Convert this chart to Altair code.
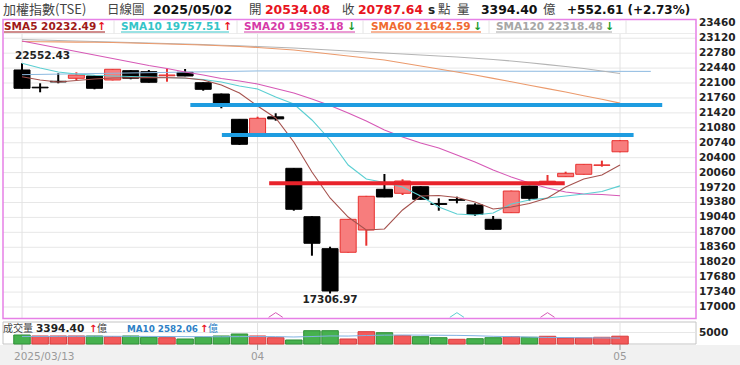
import altair as alt
import pandas as pd

# ---------------- data ----------------
dates = ["2025/03/13", "2025/03/14", "2025/03/17", "2025/03/18", "2025/03/19", "2025/03/20",
         "2025/03/21", "2025/03/24", "2025/03/25", "2025/03/26", "2025/03/27", "2025/03/28",
         "2025/03/31", "2025/04/01", "2025/04/02", "2025/04/07", "2025/04/08", "2025/04/09",
         "2025/04/10", "2025/04/11", "2025/04/14", "2025/04/15", "2025/04/16", "2025/04/17",
         "2025/04/18", "2025/04/21", "2025/04/22", "2025/04/23", "2025/04/24", "2025/04/25",
         "2025/04/28", "2025/04/29", "2025/04/30", "2025/05/02"]
opens = [22397, 22005, 22140, 22208, 22260, 22169, 22381, 22358, 22265, 22344, 22107, 21850,
         21274, 20939, 21330, 20158, 19056, 18328, 18246, 18753, 19680, 19589, 19739, 19355,
         19445, 19323, 18997, 19147, 19755, 19845, 19967, 20022, 20225, 20534.08]
highs = [22552.43, 22094, 22322, 22344, 22275, 22420, 22392, 22397, 22435, 22419, 22115, 21860,
         21280, 21333, 21411, 20165, 19065, 18373, 19000, 19530, 20029, 19908, 19750, 19475,
         19512, 19361, 19072, 19650, 19760, 20006, 20081, 20255, 20332, 20800]
lows = [21975, 21889, 22094, 22169, 21957, 22160, 22185, 22110, 22130, 22255, 21925, 21525,
        20690, 20935, 21242, 19193, 18168, 17306.97, 18240, 18396, 19500, 19550, 19440, 19193,
        19361, 19072, 18760, 19140, 19421, 19830, 19960, 20015, 20195, 20525]
closes = [21980, 21990, 22125, 22283, 21980, 22413, 22208, 22117, 22283, 22260, 21957, 21638,
          20705, 21297, 21283, 19225, 18451, 17364, 18997, 19521, 19505, 19869, 19452, 19335,
          19430, 19111, 18769, 19641, 19475, 19865, 20044, 20249, 20235.03, 20787.64]
volumes = [3915, 3480, 3480, 3480, 3480, 3175, 3480, 2915, 2740, 2175, 2915, 3480, 4350, 3480,
           2740, 1740, 5785, 5785, 2175, 5350, 4915, 3610, 3175, 2740, 2045, 2305, 2740, 3175,
           2915, 3350, 2610, 2610, 2915, 3394.40]
vol_dir = ["down", "up", "up", "up", "down", "up", "down", "down", "up", "down", "down", "down",
           "down", "up", "up", "down", "down", "down", "up", "up", "down", "up", "down", "down",
           "up", "down", "down", "up", "down", "up", "up", "up", "up", "up"]
vol_ma10 = [3300, 3300, 3320, 3350, 3380, 3350, 3330, 3300, 3250, 3200, 3180, 3150, 3200, 3250,
            3200, 3050, 3250, 3500, 3450, 3700, 3850, 3900, 3850, 3800, 3750, 3600, 3350, 3200,
            3000, 2850, 2800, 2700, 2650, 2582.06]
sma5 = [22244, 22169, 22123, 22158, 22192, 22214, 22221, 22226, 22219, 22214, 22169, 22055,
        21873, 21577, 21304, 20757, 20074, 19482, 19049, 18753, 18776, 19209, 19528, 19539,
        19493, 19391, 19232, 19277, 19357, 19482, 19733, 19915, 20006, 20232.49]
sma10 = [22549, 22442, 22351, 22306, 22276, 22260, 22249, 22237, 22226, 22208, 22180, 22123,
         22032, 21964, 21782, 21622, 21258, 20803, 20233, 19915, 19835, 19733, 19528, 19277,
         19118, 19095, 19140, 19345, 19437, 19482, 19528, 19573, 19630, 19757.51]
sma20 = [23057, 22977, 22898, 22818, 22738, 22659, 22579, 22499, 22431, 22351, 22283, 22203,
         22146, 22078, 21975, 21873, 21736, 21588, 21418, 21235, 21030, 20871, 20734, 20621,
         20461, 20302, 20120, 19960, 19824, 19710, 19619, 19573, 19562, 19533.18]
sma60 = [23046, 23041, 23036, 23032, 23027, 23023, 23011, 23000, 22989, 22977, 22966, 22950,
         22932, 22909, 22882, 22852, 22807, 22761, 22715, 22670, 22624, 22556, 22488, 22420,
         22351, 22283, 22205, 22128, 22051, 21973, 21896, 21811, 21729, 21642.59]
sma120 = [23091, 23080, 23068, 23057, 23046, 23034, 23023, 23011, 23000, 22989, 22975, 22961,
          22948, 22932, 22916, 22898, 22875, 22852, 22829, 22807, 22784, 22761, 22738, 22715,
          22693, 22665, 22636, 22602, 22561, 22520, 22476, 22431, 22374, 22318.48]
# thin light-blue long line
guide_idx = [0, 13, 34.7]
guide_val = [22290, 22375, 22365]
# user-drawn horizontal levels (start index, end index, price)
blue_start = [9.29, 11.03]
blue_end = [35.33, 33.75]
blue_price = [21600, 20917]
red_start = [13.64]
red_end = [29.95]
red_price = [19817]
# cross signals
signal_idx = [14, 24, 29]
signal_kind = ["sma20", "sma10", "sma20"]
price_ticks = [23460, 23120, 22780, 22440, 22100, 21760, 21420, 21080, 20740, 20400, 20060,
               19720, 19380, 19040, 18700, 18360, 18020, 17680, 17340, 17000]
date_tick_idx = [0, 13, 33]
date_tick_lab = ["2025/03/13", "04", "05"]

# ---------------- tables ----------------
n = len(dates)
df = pd.DataFrame({"i": list(range(n)), "date": dates, "open": opens, "high": highs,
                   "low": lows, "close": closes, "vol": volumes, "vdir": vol_dir,
                   "vma": vol_ma10})
df["dir"] = ["up" if c >= o else "down" for o, c in zip(opens, closes)]
ma_tables = {k: pd.DataFrame({"i": list(range(n)), "v": v}) for k, v in
             [("sma5", sma5), ("sma10", sma10), ("sma20", sma20), ("sma60", sma60), ("sma120", sma120)]}
guide_df = pd.DataFrame({"i": guide_idx, "v": guide_val})
blue_df = pd.DataFrame({"a": blue_start, "b": blue_end, "p": blue_price})
red_df = pd.DataFrame({"a": red_start, "b": red_end, "p": red_price})
sig_df = pd.DataFrame({"i": signal_idx, "kind": signal_kind})
tick_df = pd.DataFrame({"v": price_ticks})
dt_df = pd.DataFrame({"i": date_tick_idx, "lab": date_tick_lab})

imax = highs.index(max(highs))
imin = lows.index(min(lows))
hi_df = pd.DataFrame({"i": [imax], "v": [max(highs)], "t": [f"{max(highs):.2f}"]})
lo_df = pd.DataFrame({"i": [imin], "v": [min(lows)], "t": [f"{min(lows):.2f}"]})

# ---------------- scales ----------------
xs = alt.Scale(domain=[0, 33], range=[17, 625], nice=False, zero=False)
ys = alt.Scale(domain=[17000, 23460], range=[307.0, 23.3], nice=False, zero=False)
vs = alt.Scale(domain=[0, 5000], range=[344, 332.5], nice=False)


def X(f):
    return alt.X(f, type="quantitative", scale=xs, axis=None)


def Y(f):
    return alt.Y(f, type="quantitative", scale=ys, axis=None)


def V(f):
    return alt.Y(f, type="quantitative", scale=vs, axis=None)


ONE = alt.Data(values=[{}])


def txt(s, x, y, size=12, color="#222", weight="normal", font="DejaVu Sans", align="left"):
    return alt.Chart(ONE).mark_text(text=s, align=align, baseline="middle", fontSize=size,
                                    color=color, fontWeight=weight, font=font).encode(
        x=alt.value(x), y=alt.value(y))


def rect(x1, x2, y1, y2, **kw):
    return alt.Chart(ONE).mark_rect(**kw).encode(x=alt.value(x1), x2=alt.value(x2),
                                                 y=alt.value(y1), y2=alt.value(y2))


def hrule(x1, x2, y, color, w=1):
    return alt.Chart(ONE).mark_rule(color=color, strokeWidth=w).encode(
        x=alt.value(x1), x2=alt.value(x2), y=alt.value(y))


def vrule(x, y1, y2, color, w=1):
    return alt.Chart(ONE).mark_rule(color=color, strokeWidth=w).encode(
        x=alt.value(x), y=alt.value(y1), y2=alt.value(y2))


RED = "#e8141e"
CJK = "Noto Sans CJK TC"
C_SMA5, C_SMA10, C_SMA20, C_SMA60, C_SMA120 = "#a01818", "#34c4c8", "#d63aa8", "#f06a30", "#a6a6a6"
L_SMA5, L_SMA10, L_SMA20, L_SMA60, L_SMA120 = "#a5524e", "#5ccfd2", "#d659b6", "#eb9a6c", "#b4b4b4"

layers = []
# backgrounds and frames
layers.append(rect(0, 740, 345, 365, color="#f1f1f1"))
layers.append(rect(3, 696, 19.5, 318.5, color="white"))
# horizontal price grid
layers.append(alt.Chart(tick_df).mark_rule(color="#e7e7e7", strokeWidth=1).encode(
    y=Y("v"), x=alt.value(3), x2=alt.value(696)))
# vertical date grid
layers.append(alt.Chart(dt_df).mark_rule(color="#e2e2e2", strokeWidth=1).encode(
    x=X("i"), y=alt.value(19.5), y2=alt.value(318.5)))
layers.append(alt.Chart(dt_df).mark_rule(color="#9a9a9a", strokeWidth=1).encode(
    x=X("i"), y=alt.value(344), y2=alt.value(350)))
# legend row background
layers.append(rect(4, 695, 20.5, 33.5, color="white"))
layers.append(hrule(4, 695, 33.5, "#ececec"))
for sx in [114, 237, 363, 489, 626]:
    layers.append(vrule(sx, 20.5, 33.5, "#e4e4e4"))

# candles
wick_up = alt.Chart(df).transform_filter(alt.datum.dir == "up").mark_rule(
    color="#e8312f", strokeWidth=2).encode(x=X("i"), y=Y("low"), y2=alt.Y2("high"))
wick_dn = alt.Chart(df).transform_filter(alt.datum.dir == "down").mark_rule(
    color="#000000", strokeWidth=2).encode(x=X("i"), y=Y("low"), y2=alt.Y2("high"))
body_up = alt.Chart(df).transform_filter(alt.datum.dir == "up").mark_bar(
    size=16, fill="#f77d7d", stroke="#e8312f", strokeWidth=1).encode(
    x=X("i"), y=Y("open"), y2=alt.Y2("close"))
body_dn = alt.Chart(df).transform_filter(alt.datum.dir == "down").mark_bar(
    size=16, fill="#000000", stroke="#000000", strokeWidth=1).encode(
    x=X("i"), y=Y("open"), y2=alt.Y2("close"))
layers += [wick_up, wick_dn, body_up, body_dn]

# moving averages
layers.append(alt.Chart(guide_df).mark_line(color="#8cb9e0", strokeWidth=1).encode(x=X("i"), y=Y("v")))
for key, col in [("sma120", L_SMA120), ("sma60", L_SMA60), ("sma20", L_SMA20),
                 ("sma10", L_SMA10), ("sma5", L_SMA5)]:
    layers.append(alt.Chart(ma_tables[key]).mark_line(color=col, strokeWidth=1.1).encode(
        x=X("i"), y=Y("v")))

# user drawn levels
layers.append(alt.Chart(blue_df).mark_rule(color="#1e9ce0", strokeWidth=4).encode(
    x=X("a"), x2=alt.X2("b"), y=Y("p")))
layers.append(alt.Chart(red_df).mark_rule(color="#e8232b", strokeWidth=4).encode(
    x=X("a"), x2=alt.X2("b"), y=Y("p")))

# extremes
layers.append(alt.Chart(hi_df).mark_text(align="left", baseline="middle", dx=-7, dy=-7,
                                         fontSize=10.5, fontWeight="bold", font="DejaVu Sans",
                                         color="#222").encode(x=X("i"), y=Y("v"), text="t:N"))
layers.append(alt.Chart(lo_df).mark_text(align="center", baseline="middle", dy=6,
                                         fontSize=10.5, fontWeight="bold", font="DejaVu Sans",
                                         color="#222").encode(x=X("i"), y=Y("v"), text="t:N"))

# cross signals
caret = "M-1,0.33L0,-0.33L1,0.33"
for kind, col in [("sma20", L_SMA20), ("sma10", L_SMA10)]:
    layers.append(alt.Chart(sig_df).transform_filter(alt.datum.kind == kind).mark_point(
        shape=caret, filled=False, size=200, color=col, strokeWidth=1, opacity=1).encode(
        x=X("i"), y=alt.value(315)))

# frames
layers.append(rect(3, 696, 19.5, 318.5, fillOpacity=0, stroke="#e680e6", strokeWidth=1.5))
layers.append(rect(3, 696, 322, 344, color="white", stroke="#c4c4c4", strokeWidth=1))

# volume panel
layers.append(alt.Chart(dt_df).mark_rule(color="#e2e2e2", strokeWidth=1).encode(
    x=X("i"), y=alt.value(322.5), y2=alt.value(343.5)))
layers.append(alt.Chart(pd.DataFrame({"v": [5000]})).mark_rule(color="#e7e7e7").encode(
    y=V("v"), x=alt.value(3.5), x2=alt.value(695.5)))
layers.append(alt.Chart(df).transform_filter(alt.datum.vdir == "up").mark_bar(
    size=16.5, fill="#f25a5a", stroke="#d93c3c", strokeWidth=1).encode(x=X("i"), y=V("vol")))
layers.append(alt.Chart(df).transform_filter(alt.datum.vdir == "down").mark_bar(
    size=16.5, fill="#46b14e", stroke="#2f8f37", strokeWidth=1).encode(x=X("i"), y=V("vol")))
layers.append(alt.Chart(df).mark_line(color="#7fb2e2", strokeWidth=1).encode(x=X("i"), y=V("vma")))

# right axis labels
layers.append(alt.Chart(tick_df).mark_text(align="left", baseline="middle", fontSize=10.5,
                                           fontWeight="bold", font="DejaVu Sans",
                                           color="#222").encode(
    y=Y("v"), x=alt.value(699), text=alt.Text("v:Q", format="d")))
layers.append(alt.Chart(pd.DataFrame({"v": [5000]})).mark_text(
    align="left", baseline="middle", fontSize=10.5, fontWeight="bold", font="DejaVu Sans",
    color="#222").encode(y=V("v"), x=alt.value(699), text=alt.Text("v:Q", format="d")))

# bottom date labels
layers.append(alt.Chart(dt_df).transform_filter(alt.datum.i == 0).mark_text(
    align="left", baseline="middle", dx=-8, fontSize=10.5, font="DejaVu Sans",
    color="#9a9a9a").encode(x=X("i"), y=alt.value(357), text="lab:N"))
layers.append(alt.Chart(dt_df).transform_filter(alt.datum.i > 0).mark_text(
    align="center", baseline="middle", fontSize=10.5, font="DejaVu Sans",
    color="#9a9a9a").encode(x=X("i"), y=alt.value(357), text="lab:N"))

# header
HY = 9.5
layers += [
    txt("加權指數(TSE)", 3, HY, size=13, color="#444", font=CJK),
    txt("日線圖", 107, HY, size=12.5, color="#444", font=CJK),
    txt("2025/05/02", 153, HY, size=12.6, color="#111", weight="bold"),
    txt("開", 249, HY, size=12.5, color="#444", font=CJK),
    txt(f"{opens[-1]:.2f}", 265, HY, size=12.4, color=RED, weight="bold"),
    txt("收", 342, HY, size=12.5, color="#444", font=CJK),
    txt(f"{closes[-1]:.2f}", 358, HY, size=12.4, color=RED, weight="bold"),
    txt("s", 428, HY, size=12, color="#222", weight="bold"),
    txt("點", 438, HY, size=12.5, color="#444", font=CJK),
    txt("量", 457, HY, size=12.5, color="#444", font=CJK),
    txt(f"{volumes[-1]:.2f}", 481, HY, size=12.4, color="#111", weight="bold"),
    txt("億", 543, HY, size=12.5, color="#444", font=CJK),
    txt(f"+{closes[-1] - closes[-2]:.2f} (+{(closes[-1] - closes[-2]) / closes[-2] * 100:.2f}%)",
        567, HY, size=12, color="#111", weight="bold"),
]

# MA legend row
LY = 27
leg = [("SMA5", sma5, C_SMA5, 4, 97, 105, "↑", RED),
       ("SMA10", sma10, C_SMA10, 121, 223, 229, "↑", RED),
       ("SMA20", sma20, C_SMA20, 244, 347, 355, "↓", "#1a9a2a"),
       ("SMA60", sma60, C_SMA60, 371, 473, 481, "↓", "#1a9a2a"),
       ("SMA120", sma120, C_SMA120, 496, 605, 612, "↓", "#1a9a2a")]
for name, arr, col, x0, xa, xe, arrow, acol in leg:
    layers.append(txt(f"{name} {arr[-1]:.2f}", x0, LY, size=10.5, color=col, weight="bold"))
    layers.append(txt(arrow, xa, LY, size=11, color=acol, weight="bold"))
    layers.append(hrule(x0, xe, 32, col, 1))

# volume legend row
VY = 328.5
layers += [
    txt("成交量", 3, VY, size=10, color="#444", font=CJK),
    txt(f"{volumes[-1]:.2f}", 36, VY, size=10.6, color="#222", weight="bold"),
    txt("↑", 89, VY, size=10, color=RED, weight="bold"),
    txt("億", 97, VY, size=10, color="#444", font=CJK),
    txt(f"MA10 {vol_ma10[-1]:.2f}", 127, VY, size=8.8, color="#2d7fc6", weight="bold"),
    txt("↑", 200, VY, size=10, color=RED, weight="bold"),
    txt("億", 208, VY, size=10, color="#2d7fc6", font=CJK),
]

chart = alt.layer(*layers).resolve_scale(y="independent").properties(
    width=740, height=365, autosize=alt.AutoSizeParams(type="none"), padding=0,
    background="white").configure_view(strokeOpacity=0)

chart.save("out.html", embed_options={"renderer": "svg", "actions": False})
